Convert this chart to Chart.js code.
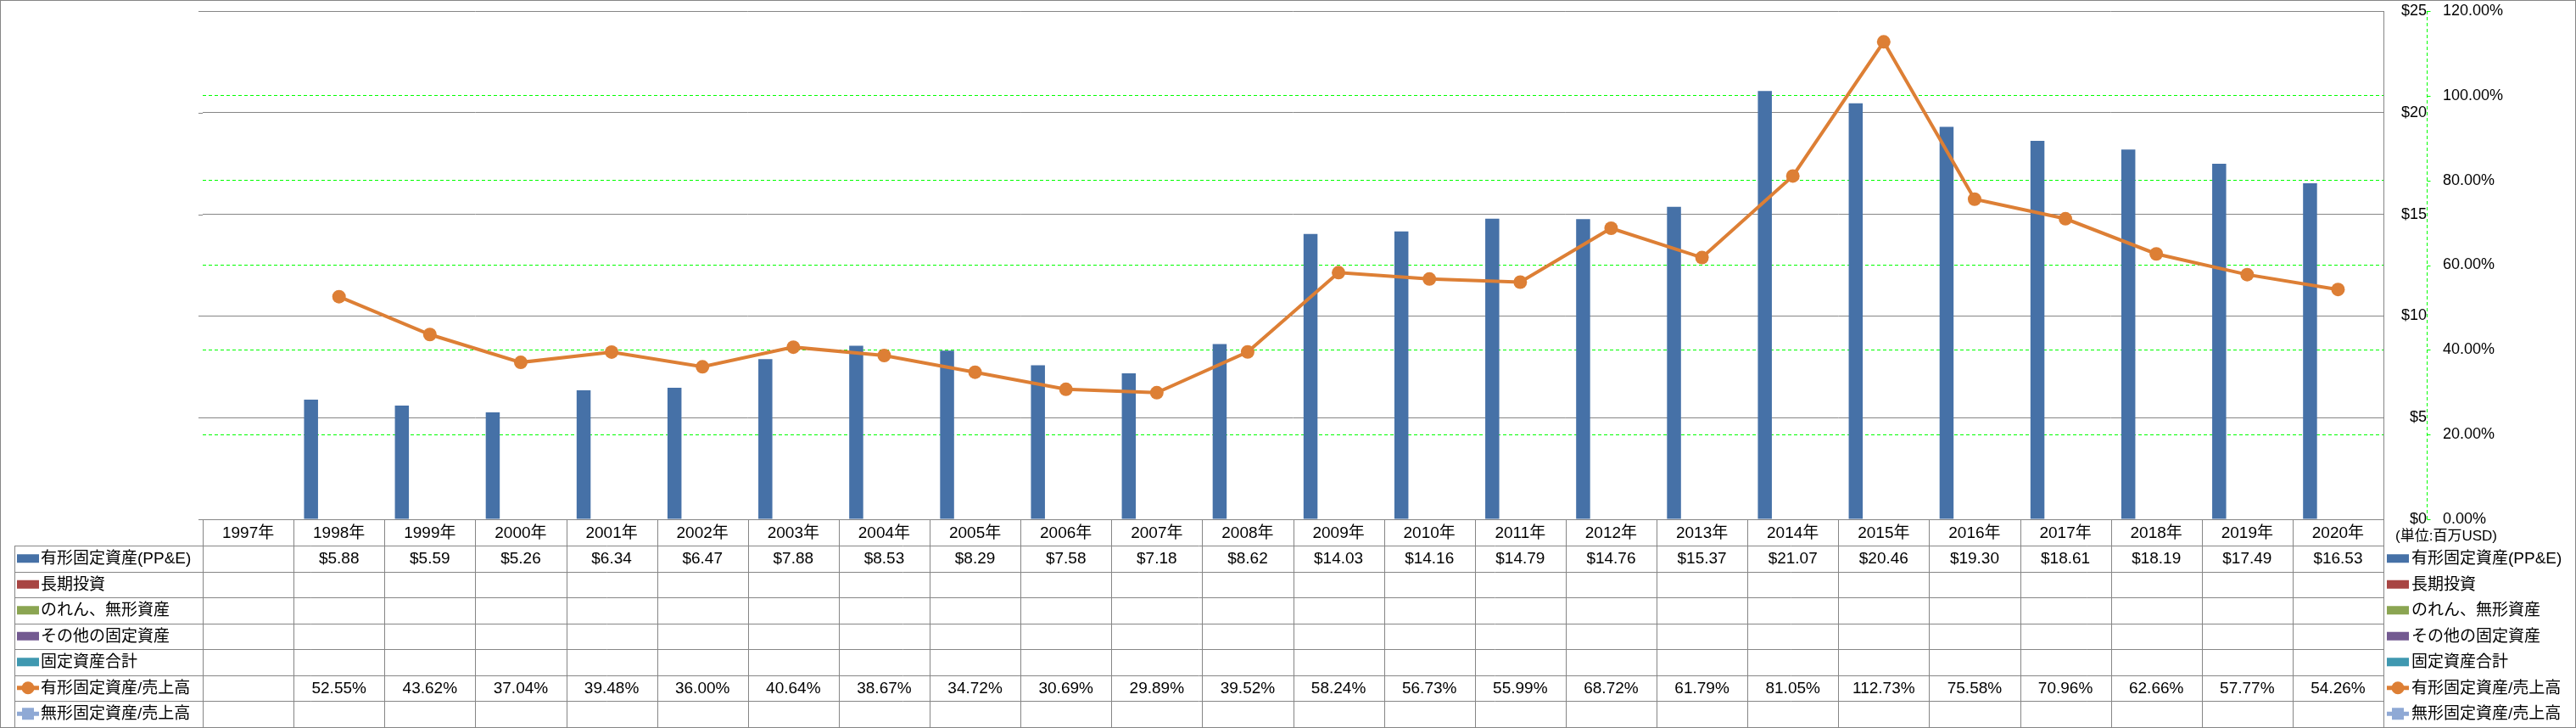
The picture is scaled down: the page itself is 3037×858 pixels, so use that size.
<!DOCTYPE html>
<html>
<head>
<meta charset="utf-8">
<script src="https://cdn.jsdelivr.net/npm/chart.js@4.4.0/dist/chart.umd.min.js"></script>
<style>
html, body { margin: 0; padding: 0; background: #fff; overflow: hidden; }
</style>
</head>
<body>
<canvas id="myChart" width="3037" height="858"></canvas>
<script>
const years = ['1997年', '1998年', '1999年', '2000年', '2001年', '2002年', '2003年', '2004年',
	'2005年', '2006年', '2007年', '2008年', '2009年', '2010年', '2011年', '2012年',
	'2013年', '2014年', '2015年', '2016年', '2017年', '2018年', '2019年', '2020年'];

// 有形固定資産 (百万USD)
const ppe = [null, 5.88, 5.59, 5.26, 6.34, 6.47, 7.88, 8.53, 8.29, 7.58, 7.18, 8.62,
	14.03, 14.16, 14.79, 14.76, 15.37, 21.07, 20.46, 19.30, 18.61, 18.19, 17.49, 16.53];
// 有形固定資産/売上高 (%)
const ppeRatio = [null, 52.55, 43.62, 37.04, 39.48, 36.00, 40.64, 38.67, 34.72, 30.69, 29.89, 39.52,
	58.24, 56.73, 55.99, 68.72, 61.79, 81.05, 112.73, 75.58, 70.96, 62.66, 57.77, 54.26];
// series with no values in the source
const longInvest = years.map(() => null);
const goodwill = years.map(() => null);
const otherAssets = years.map(() => null);
const totalFixed = years.map(() => null);
const intangibleRatio = years.map(() => null);

const dollarTicks = { min: 0, max: 25, step: 5 };
const pctTicks = { min: 0, max: 120, step: 20 };

const FONT = "'Liberation Sans', 'Noto Sans CJK JP', sans-serif";
const GRAY = '#868686';
const GREEN = '#00ff00';

const rows = [
	{ label: '有形固定資産(PP&E)', kind: 'bar', color: '#4671a7', values: ppe, fmt: v => '$' + v.toFixed(2) },
	{ label: '長期投資', kind: 'bar', color: '#a84543', values: longInvest },
	{ label: 'のれん、無形資産', kind: 'bar', color: '#8ba552', values: goodwill },
	{ label: 'その他の固定資産', kind: 'bar', color: '#735a91', values: otherAssets },
	{ label: '固定資産合計', kind: 'bar', color: '#3f98b0', values: totalFixed },
	{ label: '有形固定資産/売上高', kind: 'line', color: '#dd7f35', point: 'circle', values: ppeRatio, fmt: v => v.toFixed(2) + '%' },
	{ label: '無形固定資産/売上高', kind: 'line', color: '#8fa9d5', point: 'rect', values: intangibleRatio }
];

function legendKey(ctx, r, x, y) {
	ctx.save();
	if (r.kind === 'bar') {
		ctx.fillStyle = r.color;
		ctx.fillRect(x, y - 5, 26, 10);
	} else {
		ctx.strokeStyle = r.color;
		ctx.lineWidth = 5;
		ctx.beginPath();
		ctx.moveTo(x, y);
		ctx.lineTo(x + 26, y);
		ctx.stroke();
		ctx.fillStyle = r.color;
		ctx.beginPath();
		if (r.point === 'circle') {
			ctx.arc(x + 13, y, 7.5, 0, Math.PI * 2);
		} else {
			ctx.rect(x + 6, y - 7, 14, 14);
		}
		ctx.fill();
	}
	ctx.restore();
}

const tablePlugin = {
	id: 'dataTable',
	afterDraw(chart) {
		const ctx = chart.ctx;
		const xs = chart.scales.x;
		const y1 = chart.scales.y1;
		const area = chart.chartArea;
		const colW = (area.right - area.left) / years.length;
		const headTop = Math.round(area.bottom);
		const headBottom = headTop + 31;
		const rowH = 30.5;
		const tableBottom = Math.round(headBottom + rowH * rows.length);
		const legLeft = 17;

		ctx.save();
		ctx.strokeStyle = GRAY;
		ctx.lineWidth = 1;

		// horizontal lines
		ctx.beginPath();
		ctx.moveTo(area.left, headTop + 0.5);
		ctx.lineTo(area.right, headTop + 0.5);
		for (let i = 0; i <= rows.length; i++) {
			const yy = Math.round(headBottom + i * rowH) + 0.5;
			ctx.moveTo(legLeft, yy);
			ctx.lineTo(area.right, yy);
		}
		// short stubs left of the plot
		chart.scales.y.ticks.forEach(t => {
			const yy = Math.round(chart.scales.y.getPixelForValue(t.value)) + 0.5;
			ctx.moveTo(area.left - 5, yy);
			ctx.lineTo(area.left, yy);
		});
		// vertical lines
		ctx.moveTo(legLeft + 0.5, headBottom);
		ctx.lineTo(legLeft + 0.5, tableBottom);
		for (let i = 0; i <= years.length; i++) {
			const xx = Math.round(xs.getPixelForValue(i) - colW / 2) + 0.5;
			ctx.moveTo(xx, headTop);
			ctx.lineTo(xx, tableBottom);
		}
		// right edge of plot + table
		ctx.moveTo(Math.round(area.right) + 0.5, area.top);
		ctx.lineTo(Math.round(area.right) + 0.5, tableBottom);
		ctx.stroke();

		// dashed axis line of the % scale, with small ticks
		const ax = Math.round(y1.left) + 0.5;
		ctx.strokeStyle = GREEN;
		ctx.setLineDash([4, 3]);
		ctx.beginPath();
		ctx.moveTo(ax, area.top);
		ctx.lineTo(ax, area.bottom);
		ctx.stroke();
		ctx.setLineDash([]);
		ctx.beginPath();
		y1.ticks.forEach(t => {
			const yy = Math.round(y1.getPixelForValue(t.value)) + 0.5;
			ctx.moveTo(ax, yy);
			ctx.lineTo(ax + 4, yy);
		});
		ctx.stroke();

		// header
		ctx.fillStyle = '#000';
		ctx.font = '19px ' + FONT;
		ctx.textAlign = 'center';
		ctx.textBaseline = 'middle';
		years.forEach((yr, i) => {
			ctx.fillText(yr, xs.getPixelForValue(i), (headTop + headBottom) / 2 + 1);
		});

		// rows
		rows.forEach((r, ri) => {
			const cy = headBottom + ri * rowH + rowH / 2;
			legendKey(ctx, r, 20, cy);
			ctx.fillStyle = '#000';
			ctx.textAlign = 'left';
			ctx.fillText(r.label, 48, cy + 1);
			if (r.fmt) {
				ctx.textAlign = 'center';
				r.values.forEach((v, i) => {
					if (v !== null) ctx.fillText(r.fmt(v), xs.getPixelForValue(i), cy + 1);
				});
			}
			// right legend
			legendKey(ctx, r, area.right + 4, cy);
			ctx.fillStyle = '#000';
			ctx.textAlign = 'left';
			ctx.fillText(r.label, area.right + 33, cy + 1);
		});

		ctx.font = '17px ' + FONT;
		ctx.textAlign = 'left';
		ctx.fillText('(単位:百万USD)', area.right + 14, headTop + 20);

		// outer frame
		ctx.strokeStyle = GRAY;
		ctx.strokeRect(0.5, 0.5, chart.width - 1, chart.height - 1);
		ctx.restore();
	}
};

const barSets = rows.filter(r => r.kind === 'bar').map(r => ({
	type: 'bar',
	label: r.label,
	data: r.values,
	backgroundColor: r.color,
	yAxisID: 'y',
	order: 2,
	categoryPercentage: 0.77,
	barPercentage: 1
}));
const lineSets = rows.filter(r => r.kind === 'line').map(r => ({
	type: 'line',
	label: r.label,
	data: r.values,
	borderColor: r.color,
	backgroundColor: r.color,
	borderWidth: 4,
	pointStyle: r.point,
	pointRadius: 8,
	pointBorderWidth: 0,
	yAxisID: 'y1',
	order: 1,
	spanGaps: false
}));

const ctx = document.getElementById('myChart');
new Chart(ctx, {
	data: {
		labels: years,
		datasets: [...lineSets, ...barSets]
	},
	options: {
		responsive: false,
		animation: false,
		layout: { padding: { left: 239, top: 13, right: 0, bottom: 246 } },
		plugins: {
			legend: { display: false },
			tooltip: { enabled: false }
		},
		scales: {
			x: { display: false },
			y: {
				position: 'right',
				min: dollarTicks.min,
				max: dollarTicks.max,
				afterFit: s => { s.width = 51; },
				grid: { color: GRAY, lineWidth: 1, drawTicks: true, tickLength: 17, tickColor: 'rgba(0,0,0,0)' },
				border: { display: false },
				ticks: {
					stepSize: dollarTicks.step,
					padding: 0,
					crossAlign: 'far',
					color: '#000',
					font: { family: FONT, size: 18 },
					callback: v => '$' + v
				}
			},
			y1: {
				position: 'right',
				min: pctTicks.min,
				max: pctTicks.max,
				afterFit: s => { s.width = 176; },
				grid: {
					color: c => (c.tick && (c.tick.value === pctTicks.min || c.tick.value === pctTicks.max)) ? 'rgba(0,0,0,0)' : GREEN,
					lineWidth: 1,
					drawTicks: true,
					tickLength: 19,
					tickColor: 'rgba(0,0,0,0)'
				},
				border: { display: false, dash: [4, 3] },
				ticks: {
					stepSize: pctTicks.step,
					padding: 0,
					crossAlign: 'near',
					color: '#000',
					font: { family: FONT, size: 18 },
					callback: v => v.toFixed(2) + '%'
				}
			}
		}
	},
	plugins: [tablePlugin]
});
</script>
</body>
</html>
